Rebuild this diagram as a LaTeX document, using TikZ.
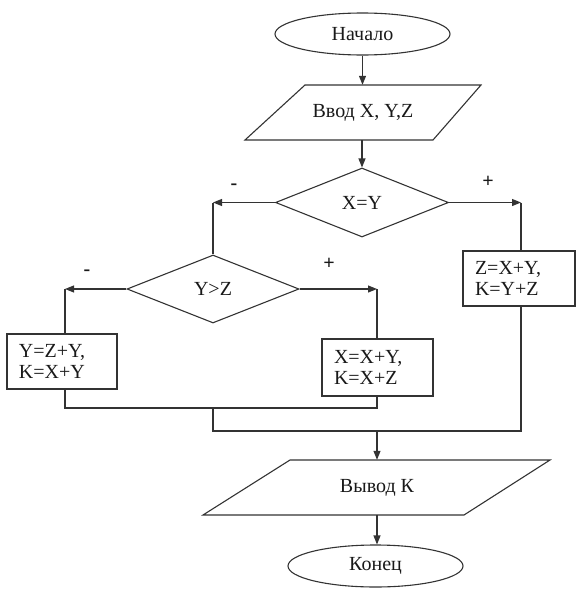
\documentclass[tikz,border=0pt]{standalone}
\usepackage{fontspec}
\setmainfont{Liberation Serif}
\usetikzlibrary{shapes.geometric,arrows.meta}
\begin{document}
\begin{tikzpicture}[x=1pt,y=-1pt,
  every node/.style={font=\fontsize{20}{21}\selectfont, text=black!90},
  ln/.style={draw=black!80, line width=1.1pt},
  arr/.style={ln, -{Triangle[length=9pt,width=7pt]}},
  term/.style={ln, ellipse, minimum width=175pt, minimum height=42pt, inner sep=0pt},
  dec/.style={ln, diamond, inner sep=0pt},
  proc/.style={ln, rectangle, align=left, inner xsep=12pt, inner ysep=0pt},
  io/.style={inner sep=0pt, minimum height=55pt},
  sgn/.style={font=\bfseries\fontsize{20}{21}\selectfont}]
\useasboundingbox (0,0) rectangle (586,605);

\node[term] (start) at (362.5,34) {Начало};

\node[io] (in) at (363,112.5) {Ввод X, Y,Z};
\draw[ln] (305,85) -- (481,85) -- (433,140) -- (245,140) -- cycle;

\node[dec, minimum width=173pt, minimum height=69pt] (d1) at (362,202.5) {X=Y};

\node[dec, minimum width=172pt, minimum height=68pt] (d2) at (213,289) {Y>Z};

\node[proc, text width=88pt, minimum height=55pt] (zbox) at (519,278.5) {Z=X+Y,\\K=Y+Z};
\node[proc, text width=86pt, minimum height=55pt] (ybox) at (62,361.5) {Y=Z+Y,\\K=X+Y};
\node[proc, text width=87pt, minimum height=57pt] (xbox) at (377.5,367.5) {X=X+Y,\\K=X+Z};

\node[io] (out) at (377,487.5) {Вывод К};
\draw[ln] (290,460) -- (550,460) -- (464,515) -- (203,515) -- cycle;

\node[term] (stop) at (375.5,566) {Конец};

\coordinate (c1) at (213,202.5);
\coordinate (c2) at (521,202.5);
\coordinate (c3) at (65,289);
\coordinate (c4) at (377,289);
\coordinate (m1) at (65,408);
\coordinate (m2) at (377,408);
\coordinate (m3) at (213,408);
\coordinate (m4) at (213,431);
\coordinate (m5) at (521,431);
\coordinate (m6) at (377,431);

\draw[arr] (start.south) -- (start.south |- in.north);
\draw[arr] (in.south -| d1.north) -- (d1.north);

\draw[arr] (d1.west) -- (c1);
\draw[ln] (c1) -- (d2.north);
\draw[arr] (d1.east) -- (c2);
\draw[ln] (c2) -- (c2 |- zbox.north);

\draw[arr] (d2.west) -- (c3);
\draw[ln] (c3) -- (c3 |- ybox.north);
\draw[arr] (d2.east) -- (c4);
\draw[ln] (c4) -- (c4 |- xbox.north);

\draw[ln] (c3 |- ybox.south) -- (m1) -- (m2) -- (c4 |- xbox.south);
\draw[ln] (m3) -- (m4) -- (m5) -- (c2 |- zbox.south);
\draw[arr] (m6) -- (m6 |- out.north);
\draw[arr] (out.south) -- (out.south |- stop.north);

\node[sgn] (l1) at (234,187) {-};
\node[sgn] (l2) at (488,182) {+};
\node[sgn] (l3) at (87,273) {-};
\node[sgn] (l4) at (329,264) {+};
\end{tikzpicture}
\end{document}
